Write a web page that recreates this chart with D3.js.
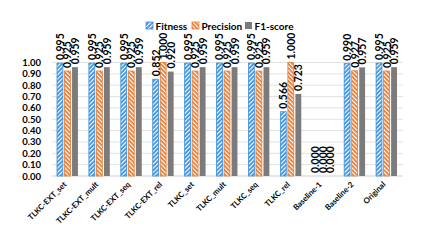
<!DOCTYPE html>
<html>
<head>
<meta charset="utf-8">
<script src="https://cdn.jsdelivr.net/npm/d3@7"></script>
<style>
  body { margin: 0; background: #fff; }
  text { font-family: Lato, "Open Sans", sans-serif; font-weight: bold; fill: #000; }
</style>
</head>
<body>
<div id="chart"></div>
<script>
const categories = ['TLKC-EXT_set', 'TLKC-EXT_mult', 'TLKC-EXT_seq', 'TLKC-EXT_rel', 'TLKC_set',
  'TLKC_mult', 'TLKC_seq', 'TLKC_rel', 'Baseline-1', 'Baseline-2', 'Original'];
const seriesNames = ['Fitness', 'Precision', 'F1-score'];
const fitness = [0.995, 0.995, 0.995, 0.852, 0.995, 0.995, 0.995, 0.566, 0.000, 0.990, 0.995];
const precision = [0.925, 0.925, 0.925, 1.000, 0.925, 0.925, 0.925, 1.000, 0.000, 0.927, 0.925];
const f1score = [0.959, 0.959, 0.959, 0.920, 0.959, 0.959, 0.959, 0.723, 0.000, 0.957, 0.959];
const yTicks = [0, 0.1, 0.2, 0.3, 0.4, 0.5, 0.6, 0.7, 0.8, 0.9, 1.0];

const svgWidth = 432;
const svgHeight = 252;
const margin = {top: 62.5, left: 52, right: 29, bottom: 76};
const width = svgWidth - margin.left - margin.right;
const height = svgHeight - margin.top - margin.bottom;

const colors = ['#3a8fdc', '#e57d36', '#7b7b7b'];

const svg = d3.select('#chart').append('svg')
  .attr('width', svgWidth)
  .attr('height', svgHeight);

// Hatch patterns
const defs = svg.append('defs');
const upHatch = defs.append('pattern')
  .attr('id', 'hatchFit')
  .attr('patternUnits', 'userSpaceOnUse')
  .attr('width', 3).attr('height', 3)
  .attr('patternTransform', 'rotate(45)');
upHatch.append('rect').attr('width', 3).attr('height', 3).attr('fill', colors[0]);
upHatch.append('rect').attr('width', 1.2).attr('height', 3).attr('fill', '#fff');

const downHatch = defs.append('pattern')
  .attr('id', 'hatchPrec')
  .attr('patternUnits', 'userSpaceOnUse')
  .attr('width', 3).attr('height', 3)
  .attr('patternTransform', 'rotate(-45)');
downHatch.append('rect').attr('width', 3).attr('height', 3).attr('fill', colors[1]);
downHatch.append('rect').attr('width', 1.2).attr('height', 3).attr('fill', '#fff');

const fills = ['url(#hatchFit)', 'url(#hatchPrec)', colors[2]];

const g = svg.append('g')
  .attr('transform', 'translate(' + margin.left + ',' + margin.top + ')');

const x = d3.scaleBand().domain(categories).range([0, width]);
const sub = d3.scaleBand().domain([0, 1, 2]).range([5, x.bandwidth() - 6]).paddingInner(0.22);
const y = d3.scaleLinear().domain([0, 1]).range([height, 0]);

// Grid lines
g.append('g')
  .selectAll('line')
  .data(yTicks)
  .join('line')
  .attr('x1', 0).attr('x2', width)
  .attr('y1', d => y(d)).attr('y2', d => y(d))
  .attr('stroke', d => d === 0 ? '#cfcfcf' : '#e2e2e2')
  .attr('stroke-width', 1);

// Y axis labels
g.append('g')
  .call(d3.axisLeft(y).tickValues(yTicks).tickFormat(d3.format('.2f')).tickSize(0).tickPadding(11))
  .call(ax => ax.select('.domain').remove())
  .selectAll('text')
  .style('font-size', '9.5px')
  .style('font-family', 'Lato, "Open Sans", sans-serif')
  .style('font-weight', 'bold');

const rows = categories.map((c, i) => ({cat: c, values: [fitness[i], precision[i], f1score[i]]}));

const groups = g.selectAll('g.group')
  .data(rows)
  .join('g')
  .attr('class', 'group')
  .attr('transform', d => 'translate(' + x(d.cat) + ',0)');

groups.selectAll('rect')
  .data(d => d.values.map((v, k) => ({v, k})))
  .join('rect')
  .attr('x', d => sub(d.k))
  .attr('width', sub.bandwidth())
  .attr('y', d => y(d.v))
  .attr('height', d => height - y(d.v))
  .attr('fill', d => fills[d.k])
  .attr('stroke', d => d.k < 2 ? colors[d.k] : 'none')
  .attr('stroke-width', 0.8);

// Value labels
groups.selectAll('text.val')
  .data(d => d.values.map((v, k) => ({v, k})))
  .join('text')
  .attr('class', 'val')
  .attr('transform', d => 'translate(' + (sub(d.k) + sub.bandwidth() / 2) + ',' + (y(d.v) - 3) + ') rotate(-90)')
  .attr('dominant-baseline', 'central')
  .style('font-size', '10.5px')
  .text(d => d3.format('.3f')(d.v));

// X labels
g.append('g')
  .selectAll('text')
  .data(categories)
  .join('text')
  .attr('transform', d => 'translate(' + (x(d) + x.bandwidth() / 2 - 1) + ',' + (height + 9) + ') rotate(-45)')
  .attr('text-anchor', 'end')
  .style('font-size', '7.8px')
  .text(d => d);

// Legend
const legendX = [146, 192, 245];
const legend = svg.append('g')
  .selectAll('g')
  .data(seriesNames)
  .join('g')
  .attr('transform', (d, i) => 'translate(' + legendX[i] + ',22)');
legend.append('rect')
  .attr('width', 7).attr('height', 7)
  .attr('fill', (d, i) => fills[i])
  .attr('stroke', (d, i) => i < 2 ? colors[i] : 'none')
  .attr('stroke-width', 0.8);
legend.append('text')
  .attr('x', 9.5).attr('y', 3.8)
  .attr('dominant-baseline', 'central')
  .style('font-size', '10px')
  .text(d => d);
</script>
</body>
</html>
